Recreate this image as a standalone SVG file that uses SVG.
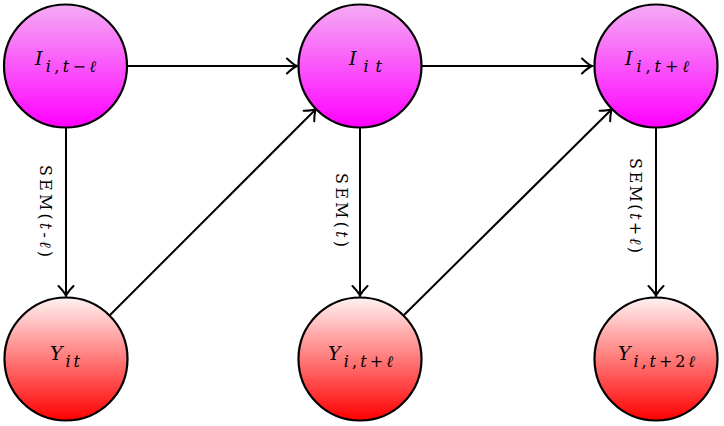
<svg xmlns="http://www.w3.org/2000/svg" width="724" height="426" viewBox="0 0 724 426">
<style>
.node{stroke:#000;stroke-width:2.2}
.edge{fill:none;stroke:#000;stroke-width:2}
.lbl{font-family:"DejaVu Serif","Liberation Serif",serif;font-style:italic;font-size:19px}
.sub{font-size:16px}
.el{font-family:"DejaVu Serif","Liberation Serif",serif;font-size:16px}
</style>
<defs>
<linearGradient id="gm" x1="0" y1="0" x2="0" y2="1">
<stop offset="0" stop-color="#f5acf5"/>
<stop offset="1" stop-color="#ff00ff"/>
</linearGradient>
<linearGradient id="gr" x1="0" y1="0" x2="0" y2="1">
<stop offset="0" stop-color="#fff2f2"/>
<stop offset="1" stop-color="#ff0000"/>
</linearGradient>
<marker id="arr" viewBox="-12 -9 14 18" markerWidth="14" markerHeight="18" refX="0" refY="0" orient="auto" markerUnits="userSpaceOnUse">
<path d="M-10,-7.5 Q-3.5,-1.2 0,0 Q-3.5,1.2 -10,7.5" fill="none" stroke="#000" stroke-width="2" stroke-linecap="round"/>
</marker>
</defs>
<g id="edges">
<line class="edge" x1="127" y1="66" x2="297" y2="66" marker-end="url(#arr)"/>
<line class="edge" x1="422" y1="66" x2="592" y2="66" marker-end="url(#arr)"/>
<line class="edge" x1="66" y1="127" x2="66" y2="296" marker-end="url(#arr)"/>
<line class="edge" x1="360" y1="127" x2="360" y2="296" marker-end="url(#arr)"/>
<line class="edge" x1="656" y1="127" x2="656" y2="296" marker-end="url(#arr)"/>
<line class="edge" x1="110" y1="315" x2="316" y2="109" marker-end="url(#arr)"/>
<line class="edge" x1="404" y1="315" x2="612" y2="109" marker-end="url(#arr)"/>
<text class="el" transform="translate(40,165) rotate(90)" textLength="92" lengthAdjust="spacing">SEM(<tspan font-style="italic">t</tspan>-<tspan font-style="italic">ℓ</tspan>)</text>
<text class="el" transform="translate(336,173) rotate(90)" textLength="74" lengthAdjust="spacing">SEM(<tspan font-style="italic">t</tspan>)</text>
<text class="el" transform="translate(630,158) rotate(90)" textLength="95" lengthAdjust="spacing">SEM(<tspan font-style="italic">t</tspan>+<tspan font-style="italic">ℓ</tspan>)</text>
</g>
<g id="I_tminus">
<circle class="node" cx="65.5" cy="66" r="61.5" fill="url(#gm)"/>
<text class="lbl" x="35" y="65" textLength="61" lengthAdjust="spacing">I<tspan class="sub" dy="7">i<tspan font-style="normal">,</tspan>t<tspan font-style="normal">−</tspan>ℓ</tspan></text>
</g>
<g id="I_t">
<circle class="node" cx="360" cy="66" r="61.5" fill="url(#gm)"/>
<text class="lbl" x="349" y="65" textLength="33" lengthAdjust="spacing">I<tspan class="sub" dy="7">it</tspan></text>
</g>
<g id="I_tplus">
<circle class="node" cx="656" cy="66" r="61.5" fill="url(#gm)"/>
<text class="lbl" x="625" y="65" textLength="64" lengthAdjust="spacing">I<tspan class="sub" dy="7">i<tspan font-style="normal">,</tspan>t<tspan font-style="normal">+</tspan>ℓ</tspan></text>
</g>
<g id="Y_t">
<circle class="node" cx="66" cy="359" r="61.5" fill="url(#gr)"/>
<text class="lbl" x="50" y="360" textLength="30" lengthAdjust="spacing">Y<tspan class="sub" dy="7">it</tspan></text>
</g>
<g id="Y_tplus">
<circle class="node" cx="360" cy="359" r="61.5" fill="url(#gr)"/>
<text class="lbl" x="328" y="360" textLength="65" lengthAdjust="spacing">Y<tspan class="sub" dy="7">i<tspan font-style="normal">,</tspan>t<tspan font-style="normal">+</tspan>ℓ</tspan></text>
</g>
<g id="Y_tplus2">
<circle class="node" cx="656" cy="359" r="61.5" fill="url(#gr)"/>
<text class="lbl" x="618" y="360" textLength="77" lengthAdjust="spacing">Y<tspan class="sub" dy="7">i<tspan font-style="normal">,</tspan>t<tspan font-style="normal">+2</tspan>ℓ</tspan></text>
</g>
</svg>
